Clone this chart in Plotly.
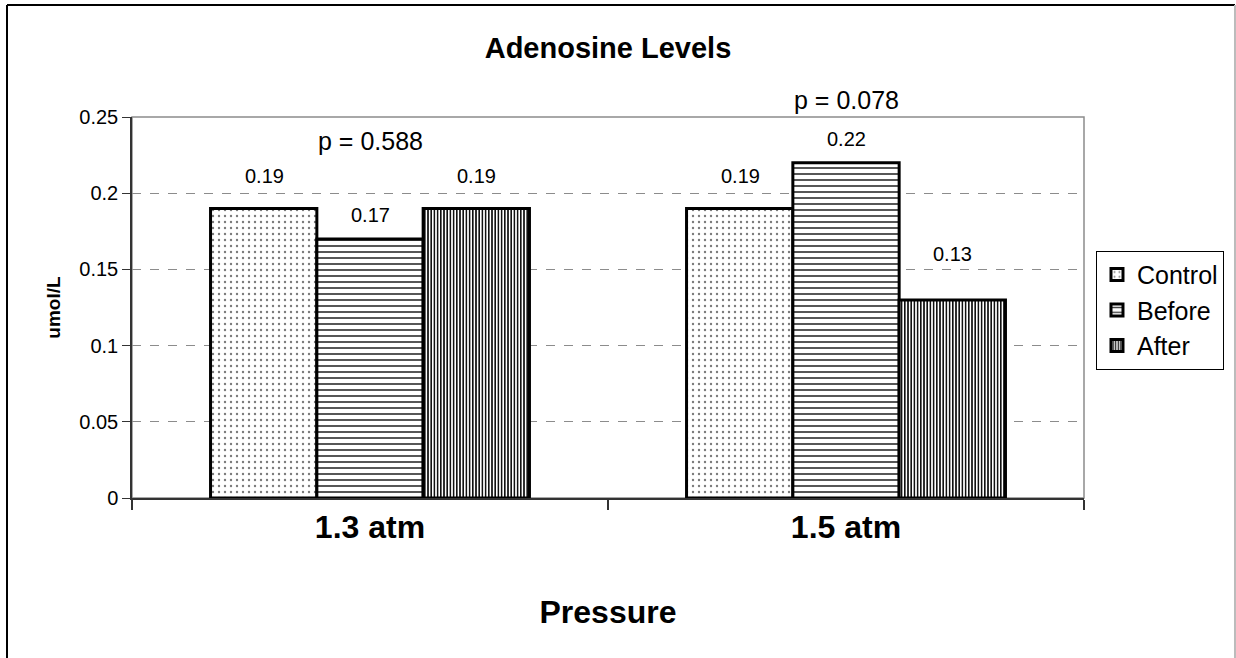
import plotly.graph_objects as go

categories = ["1.3 atm", "1.5 atm"]
series_names = ["Control", "Before", "After"]
control = [0.19, 0.19]
before = [0.17, 0.22]
after = [0.19, 0.13]
p_labels = ["p = 0.588", "p = 0.078"]
y_ticks = [0, 0.05, 0.1, 0.15, 0.2, 0.25]
y_tick_text = ["0", "0.05", "0.1", "0.15", "0.2", "0.25"]

FONT = "Liberation Sans, Arial, sans-serif"

patterns = [
    dict(shape=".", size=6, solidity=0.12, fgcolor="#7a7a7a", bgcolor="white", fillmode="replace"),
    dict(shape="-", size=6, solidity=0.3, fgcolor="#444444", bgcolor="white", fillmode="replace"),
    dict(shape="|", size=3.2, solidity=0.5, fgcolor="#111111", bgcolor="white", fillmode="replace"),
]

fig = go.Figure()
for i, (name, vals) in enumerate(zip(series_names, [control, before, after])):
    fig.add_trace(go.Bar(
        x=categories, y=vals, name=name, legendgroup=name,
        marker=dict(color="white", pattern=patterns[i], line=dict(color="black", width=3)),
    ))

# data labels (pixel offsets of Excel-style label placement)
label_dx = [-106, 0, 106]
label_dy = [[32, 32], [24, 24], [32, 46]]
for i, vals in enumerate([control, before, after]):
    for j, v in enumerate(vals):
        fig.add_annotation(x=categories[j], y=v, text=f"{v:.2f}", showarrow=False,
                           xshift=label_dx[i], yshift=label_dy[i][j],
                           font=dict(family=FONT, size=20, color="black"))

# p-value labels (paper-y placement, above the bars)
p_pos = [0.937, 1.0446]
for j, t in enumerate(p_labels):
    fig.add_annotation(x=categories[j], xref="x", y=p_pos[j], yref="paper", text=t,
                       showarrow=False, yanchor="middle",
                       font=dict(family=FONT, size=25, color="black"))

# plot area border (gray) and outer chart border
fig.add_shape(type="rect", xref="paper", yref="paper", x0=0, x1=1, y0=0, y1=1,
              line=dict(color="#8c8c8c", width=1.5), layer="below")
ox0, ox1, oy0, oy1 = -0.1313, 1.1586, -0.6, 1.294
fig.add_shape(type="line", xref="paper", yref="paper", x0=ox0, x1=ox1, y0=oy1, y1=oy1,
              line=dict(color="black", width=2), layer="below")
fig.add_shape(type="line", xref="paper", yref="paper", x0=ox0, x1=ox0, y0=oy0, y1=oy1,
              line=dict(color="black", width=2), layer="below")
fig.add_shape(type="line", xref="paper", yref="paper", x0=ox1, x1=ox1, y0=oy0, y1=oy1,
              line=dict(color="#bbbbbb", width=2), layer="below")

fig.update_layout(
    width=1236, height=658,
    margin=dict(l=132, r=152, t=117, b=160),
    paper_bgcolor="white", plot_bgcolor="white",
    barmode="group", bargap=0.33, bargroupgap=0,
    font=dict(family=FONT, color="black"),
    title=dict(text="<b>Adenosine Levels</b>", xref="paper", x=0.5, xanchor="center",
               y=1 - 48 / 658, yanchor="middle",
               font=dict(family=FONT, size=29, color="black")),
    legend=dict(x=1.0126, xanchor="left", y=0.493, yanchor="middle",
                bordercolor="black", borderwidth=1, bgcolor="white",
                font=dict(family=FONT, size=25, color="black"),
                tracegroupgap=1, itemwidth=30, traceorder="normal"),
    showlegend=True,
)
fig.update_xaxes(
    type="category", tickson="boundaries", ticks="outside", ticklen=10, tickwidth=1.5,
    tickcolor="#333", showline=True, linecolor="#333", linewidth=2,
    tickfont=dict(family=FONT, size=32, color="black"),
    tickprefix="<b>", ticksuffix="</b>",
    title=dict(text="<b>Pressure</b>", font=dict(family=FONT, size=32, color="black"), standoff=56),
    showgrid=False,
)
fig.update_yaxes(
    range=[0, 0.25], tickvals=y_ticks, ticktext=y_tick_text,
    ticks="outside", ticklen=8, tickcolor="#333", tickwidth=1,
    showline=True, linecolor="#333", linewidth=1.5,
    tickfont=dict(family=FONT, size=20, color="black"),
    showgrid=True, gridcolor="#8c8c8c", griddash="dash", gridwidth=1,
    zeroline=False,
    title=dict(text="<b>umol/L</b>", font=dict(family=FONT, size=19, color="black"), standoff=14),
)

fig.write_html("out.html", config={"displayModeBar": False},
               post_script="document.body.style.margin='0';document.body.style.overflow='hidden';")
